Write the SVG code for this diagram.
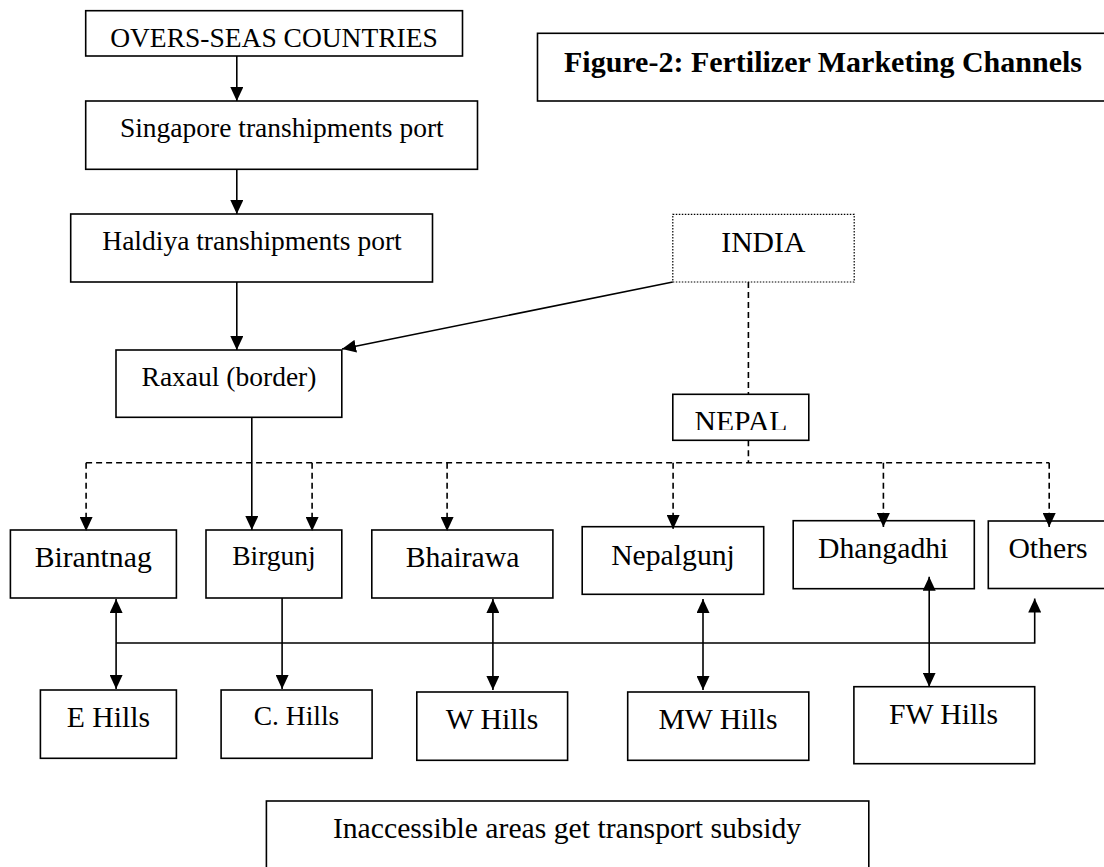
<svg xmlns="http://www.w3.org/2000/svg" width="1104" height="867" viewBox="0 0 1104 867">
<style>
.box{fill:#fff;stroke:#000;stroke-width:1.6}
.dot{fill:#fff;stroke:#000;stroke-width:1.2;stroke-dasharray:1.5 1.5}
.t{font-family:"Liberation Serif","Times New Roman",serif;fill:#000;text-anchor:middle}
.s{font-size:27.5px}
.b{font-size:29.7px}
.ln{fill:none;stroke:#000;stroke-width:1.6}
.da{fill:none;stroke:#000;stroke-width:1.6;stroke-dasharray:6 4}
</style>
<defs>
<marker id="arr" viewBox="0 0 14 13" refX="14" refY="6.5" markerWidth="14" markerHeight="13" markerUnits="userSpaceOnUse" orient="auto-start-reverse">
<path d="M0,0 L14,6.5 L0,13 z" fill="#000"/>
</marker>
<clipPath id="nepclip"><rect x="672" y="394" width="137" height="36"/></clipPath>
</defs>
<g id="overseas"><rect class="box" x="85.7" y="10.7" width="376.8" height="45.3"/><text class="t s" x="274" y="47">OVERS-SEAS COUNTRIES</text></g>
<g id="title"><rect class="box" x="537.5" y="33.3" width="570" height="67.7"/><text x="564" y="71.7" style="font-family:'Liberation Serif','Times New Roman',serif;font-weight:bold;font-size:30px">Figure-2: Fertilizer Marketing Channels</text></g>
<g id="singapore"><rect class="box" x="85.7" y="101" width="391.8" height="68.3"/><text class="t s" x="281.8" y="137">Singapore transhipments port</text></g>
<g id="haldiya"><rect class="box" x="70.7" y="214" width="361.8" height="68"/><text class="t s" x="252" y="250">Haldiya transhipments port</text></g>
<g id="india"><rect class="dot" x="672.8" y="214.3" width="181.4" height="67.7"/><text class="t b" x="763.3" y="251.7">INDIA</text></g>
<g id="raxaul"><rect class="box" x="116" y="350" width="225.8" height="67.3"/><text class="t s" x="229" y="386">Raxaul (border)</text></g>
<g id="nepal"><rect class="box" x="672.8" y="394.3" width="136" height="46"/><text class="t b" x="741" y="431" clip-path="url(#nepclip)">NEPAL</text></g>
<g id="birantnag"><rect class="box" x="10.4" y="530" width="166" height="68"/><text class="t b" x="93.2" y="567.3">Birantnag</text></g>
<g id="birgunj"><rect class="box" x="206" y="530" width="135.8" height="68"/><text class="t s" x="274" y="565">Birgunj</text></g>
<g id="bhairawa"><rect class="box" x="371.8" y="530" width="181.1" height="68"/><text class="t b" x="462.5" y="567">Bhairawa</text></g>
<g id="nepalgunj"><rect class="box" x="582.2" y="526.7" width="181.5" height="67.6"/><text class="t b" x="673" y="565">Nepalgunj</text></g>
<g id="dhangadhi"><rect class="box" x="793.2" y="520.7" width="181.1" height="68"/><text class="t b" x="883.2" y="558.3">Dhangadhi</text></g>
<g id="others"><rect class="box" x="988.3" y="521" width="122" height="67.5"/><text class="t b" x="1048" y="558.3">Others</text></g>
<g id="ehills"><rect class="box" x="40.4" y="690" width="136" height="68.3"/><text class="t b" x="108.4" y="726.7">E Hills</text></g>
<g id="chills"><rect class="box" x="221.1" y="690" width="151" height="68.3"/><text class="t s" x="296.5" y="725">C. Hills</text></g>
<g id="whills"><rect class="box" x="416.8" y="692" width="150.8" height="68.3"/><text class="t b" x="492" y="729.3">W Hills</text></g>
<g id="mwhills"><rect class="box" x="627.7" y="692" width="181.1" height="68.3"/><text class="t b" x="718" y="729.3">MW Hills</text></g>
<g id="fwhills"><rect class="box" x="853.9" y="686.7" width="180.8" height="77"/><text class="t b" x="943.5" y="724">FW Hills</text></g>
<g id="subsidy"><rect class="box" x="266.4" y="801" width="602.4" height="80"/><text class="t b" x="567" y="838.3">Inaccessible areas get transport subsidy</text></g>
<g id="connectors">
<line class="ln" x1="236.8" y1="56" x2="236.8" y2="101" marker-end="url(#arr)"/>
<line class="ln" x1="236.8" y1="169.3" x2="236.8" y2="214" marker-end="url(#arr)"/>
<line class="ln" x1="236.8" y1="282" x2="236.8" y2="350" marker-end="url(#arr)"/>
<line class="ln" x1="672.8" y1="282" x2="342" y2="349" marker-end="url(#arr)"/>
<line class="ln" x1="251.8" y1="417.3" x2="251.8" y2="530" marker-end="url(#arr)"/>
<line class="da" x1="748.4" y1="282" x2="748.4" y2="394.3"/>
<line class="da" x1="748.4" y1="440.3" x2="748.4" y2="462.7"/>
<line class="da" x1="86.1" y1="462.7" x2="1049.2" y2="462.7"/>
<line class="da" x1="86.1" y1="462.7" x2="86.1" y2="531" marker-end="url(#arr)"/>
<line class="da" x1="312.1" y1="462.7" x2="312.1" y2="531" marker-end="url(#arr)"/>
<line class="da" x1="447.1" y1="462.7" x2="447.1" y2="531" marker-end="url(#arr)"/>
<line class="da" x1="673.1" y1="462.7" x2="673.1" y2="529" marker-end="url(#arr)"/>
<line class="da" x1="883.4" y1="462.7" x2="883.4" y2="527" marker-end="url(#arr)"/>
<line class="da" x1="1049.2" y1="462.7" x2="1049.2" y2="527" marker-end="url(#arr)"/>
<line class="ln" x1="116.1" y1="599" x2="116.1" y2="689" marker-start="url(#arr)" marker-end="url(#arr)"/>
<line class="ln" x1="282.1" y1="598" x2="282.1" y2="689" marker-end="url(#arr)"/>
<line class="ln" x1="492.9" y1="599" x2="492.9" y2="690" marker-start="url(#arr)" marker-end="url(#arr)"/>
<line class="ln" x1="703" y1="599" x2="703" y2="690" marker-start="url(#arr)" marker-end="url(#arr)"/>
<line class="ln" x1="929.2" y1="576.7" x2="929.2" y2="686.7" marker-start="url(#arr)" marker-end="url(#arr)"/>
<path class="ln" d="M116.1,643 H1034.7 V598.5" marker-end="url(#arr)"/>
</g>
</svg>
